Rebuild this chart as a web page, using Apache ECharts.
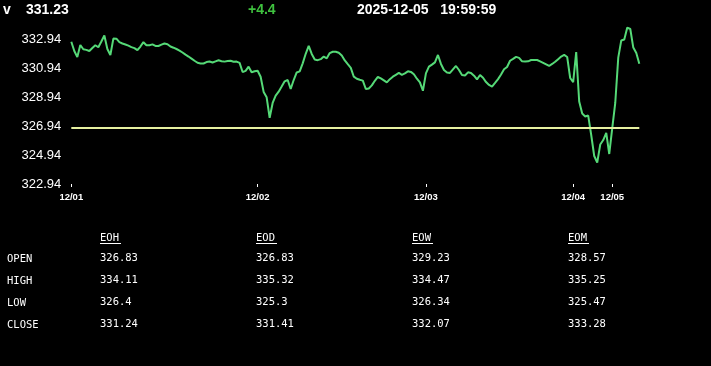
<!DOCTYPE html>
<html>
<head>
<meta charset="utf-8">
<script src="https://cdn.jsdelivr.net/npm/echarts@6/dist/echarts.min.js"></script>
<style>
html,body{margin:0;padding:0;background:#000;}
#chart{width:711px;height:366px;}
</style>
</head>
<body>
<div id="chart"></div>
<script>
// ---- data ----
const symbol = 'v';
const lastPrice = '331.23';
const change = '+4.4';
const stamp = '2025-12-05   19:59:59';
const refPrice = 326.83;
const dayLabels = ['12/01', '12/02', '12/03', '12/04', '12/05'];
const dayStarts = [0, 62, 118, 167, 180];
const yTicks = { min: 322.94, max: 334.94, step: 2 };
const prices = [
  332.75, 332.11, 331.70, 332.53, 332.23, 332.19, 332.11, 332.32, 332.51, 332.37,
  332.77, 333.18, 332.25, 331.84, 332.97, 332.96, 332.72, 332.63, 332.56, 332.48,
  332.38, 332.31, 332.17, 332.42, 332.72, 332.51, 332.51, 332.57, 332.46, 332.46,
  332.55, 332.63, 332.58, 332.42, 332.34, 332.25, 332.14, 332.01, 331.86, 331.73,
  331.59, 331.44, 331.30, 331.25, 331.25, 331.35, 331.39, 331.32, 331.40, 331.47,
  331.41, 331.38, 331.42, 331.44, 331.37, 331.38, 331.29, 330.66, 330.74, 331.03,
  330.65, 330.72, 330.75, 330.34, 329.29, 328.92, 327.51, 328.53, 329.04, 329.31,
  329.66, 330.02, 330.11, 329.49, 330.11, 330.63, 330.71, 331.26, 331.92, 332.46,
  331.91, 331.53, 331.48, 331.55, 331.73, 331.61, 331.97, 332.06, 332.06, 331.99,
  331.80, 331.46, 331.20, 330.95, 330.34, 330.20, 330.13, 330.07, 329.49, 329.53,
  329.74, 330.06, 330.32, 330.22, 330.09, 329.95, 330.17, 330.34, 330.47, 330.60,
  330.47, 330.57, 330.71, 330.67, 330.51, 330.20, 329.95, 329.37, 330.57, 331.03,
  331.17, 331.33, 331.84, 331.22, 330.80, 330.63, 330.60, 330.84, 331.08, 330.80,
  330.46, 330.42, 330.64, 330.60, 330.41, 330.15, 330.46, 330.27, 329.97, 329.77,
  329.66, 329.91, 330.17, 330.49, 330.85, 331.01, 331.44, 331.57, 331.71, 331.64,
  331.40, 331.38, 331.40, 331.49, 331.49, 331.49, 331.40, 331.30, 331.19, 331.08,
  331.22, 331.37, 331.55, 331.73, 331.84, 331.70, 330.25, 329.97, 332.04, 328.63,
  327.80, 327.60, 327.66, 326.32, 324.87, 324.42, 325.66, 325.97, 326.46, 325.01,
  326.80, 328.53, 331.66, 332.84, 332.91, 333.73, 333.63, 332.35, 331.97, 331.23
];
const tableCols = ['EOH', 'EOD', 'EOW', 'EOM'];
const tableRows = ['OPEN', 'HIGH', 'LOW', 'CLOSE'];
const eoh = ['326.83', '334.11', '326.4', '331.24'];
const eod = ['326.83', '335.32', '325.3', '331.41'];
const eow = ['329.23', '334.47', '326.34', '332.07'];
const eom = ['328.57', '335.25', '325.47', '333.28'];

// ---- build ----
const colValues = [eoh, eod, eow, eom];
const categories = prices.map((_, i) => String(i));
const isDayStart = (i) => dayStarts.indexOf(i) >= 0;

const headFont = 'bold 14px "Liberation Sans", Arial, sans-serif';
const monoFont = '10.5px "DejaVu Sans Mono", monospace';
const graphics = [
  { type: 'text', left: 3, top: 3, style: { text: symbol, font: headFont, fill: '#fff' } },
  { type: 'text', left: 26, top: 3, style: { text: lastPrice, font: headFont, fill: '#fff' } },
  { type: 'text', left: 248, top: 3, style: { text: change, font: headFont, fill: '#3fc23f' } },
  { type: 'text', left: 357, top: 3, style: { text: stamp, font: headFont, fill: '#fff' } }
];
const colX = [100, 256, 412, 568];
const rowY = [258.5, 280.5, 302, 324];
tableCols.forEach((c, j) => {
  graphics.push({ type: 'text', x: colX[j], y: 238, style: { text: c, font: monoFont, fill: '#fff', textVerticalAlign: 'middle' } });
  graphics.push({ type: 'line', shape: { x1: colX[j], y1: 243.5, x2: colX[j] + 21, y2: 243.5 }, style: { stroke: '#fff', lineWidth: 1 } });
});
tableRows.forEach((r, i) => {
  graphics.push({ type: 'text', x: 7, y: rowY[i] + 1, style: { text: r, font: monoFont, fill: '#fff', textVerticalAlign: 'middle' } });
  colValues.forEach((vals, j) => {
    graphics.push({ type: 'text', x: colX[j], y: rowY[i], style: { text: vals[i], font: monoFont, fill: '#fff', textVerticalAlign: 'middle' } });
  });
});

const chart = echarts.init(document.getElementById('chart'), null, { renderer: 'canvas' });
chart.setOption({
  backgroundColor: '#000',
  animation: false,
  grid: { left: 71.3, right: 71.7, top: 10, bottom: 182, containLabel: false },
  xAxis: {
    type: 'category',
    data: categories,
    boundaryGap: false,
    axisLine: { show: false },
    axisTick: { show: true, interval: (i) => isDayStart(i), length: 3, lineStyle: { color: '#fff', width: 1 } },
    axisLabel: {
      interval: (i) => isDayStart(i),
      formatter: (v, i) => dayLabels[dayStarts.indexOf(Number(v))] || '',
      color: '#fff', fontSize: 9.5, fontWeight: 'bold', fontFamily: '"Liberation Sans", Arial, sans-serif', margin: 8
    },
    splitLine: { show: false }
  },
  yAxis: {
    type: 'value',
    min: yTicks.min, max: yTicks.max, interval: yTicks.step,
    axisLine: { show: false }, axisTick: { show: false }, splitLine: { show: false },
    axisLabel: {
      color: '#fff', fontSize: 13, fontFamily: '"Liberation Sans", Arial, sans-serif', margin: 10,
      formatter: (v) => v > yTicks.max - 0.5 ? '' : v.toFixed(2)
    }
  },
  series: [{
    type: 'line',
    data: prices,
    showSymbol: false,
    smooth: false,
    lineStyle: { color: '#55d977', width: 2 },
    markLine: {
      silent: true, symbol: 'none', label: { show: false },
      lineStyle: { color: '#e6f0a0', width: 2, type: 'solid' },
      data: [{ yAxis: refPrice }]
    }
  }],
  graphic: graphics
});
</script>
</body>
</html>
